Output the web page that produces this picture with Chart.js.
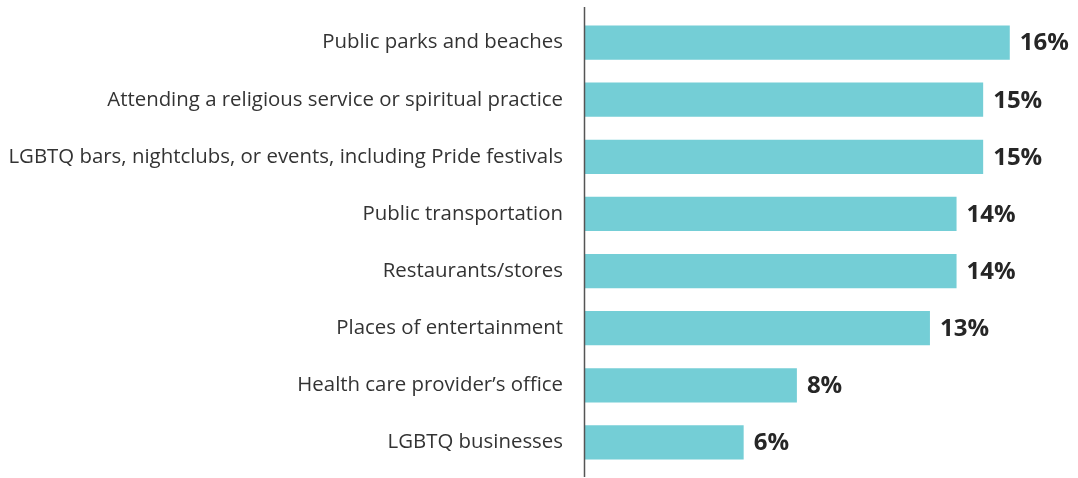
<!DOCTYPE html>
<html>
<head>
<meta charset="utf-8">
<script src="https://cdn.jsdelivr.net/npm/chart.js@4"></script>
<style>
  html, body { margin: 0; padding: 0; background: #fff; }
  #wrap { width: 1078px; height: 478px; }
</style>
</head>
<body>
<div id="wrap"><canvas id="chart"></canvas></div>
<script>
const categories = [
  "Public parks and beaches",
  "Attending a religious service or spiritual practice",
  "LGBTQ bars, nightclubs, or events, including Pride festivals",
  "Public transportation",
  "Restaurants/stores",
  "Places of entertainment",
  "Health care provider\u2019s office",
  "LGBTQ businesses"
];
const percents = [16, 15, 15, 14, 14, 13, 8, 6];

// draws the bold % next to each bar
const valueLabels = {
  id: "valueLabels",
  afterDatasetsDraw(chart) {
    const ctx = chart.ctx;
    const meta = chart.getDatasetMeta(0);
    ctx.save();
    ctx.font = "bold 24px 'Open Sans'";
    ctx.fillStyle = "#262626";
    ctx.textAlign = "left";
    ctx.textBaseline = "middle";
    meta.data.forEach((bar, i) => {
      ctx.fillText(percents[i] + "%", bar.x + 10, bar.y + 1);
    });
    ctx.restore();
  }
};

// vertical axis line, a bit taller than the plot area
const axisLine = {
  id: "axisLine",
  afterDraw(chart) {
    const ctx = chart.ctx;
    const x = Math.round(chart.scales.x.left) + 0.5;
    ctx.save();
    ctx.strokeStyle = "#555";
    ctx.lineWidth = 1.5;
    ctx.beginPath();
    ctx.moveTo(x, 7);
    ctx.lineTo(x, 477);
    ctx.stroke();
    ctx.restore();
  }
};

new Chart(document.getElementById("chart").getContext("2d"), {
  type: "bar",
  data: {
    labels: categories,
    datasets: [
      {
        data: percents,
        backgroundColor: "#74CED6",
        barPercentage: 0.6,
        categoryPercentage: 1,
      },
    ],
  },
  options: {
    indexAxis: "y",
    responsive: true,
    maintainAspectRatio: false,
    animation: false,
    layout: { padding: { top: 14, bottom: 7, right: 15, left: 0 } },
    scales: {
      x: {
        min: 0,
        max: 18,
        display: false,
        grid: { display: false },
      },
      y: {
        grid: { display: false, drawTicks: false },
        border: { display: false },
        ticks: {
          padding: 21,
          color: "#333",
          font: { family: "'Open Sans'", size: 20.4 },
        },
        afterFit(scale) {
          scale.width = 584;
          scale.paddingTop = 0;
          scale.paddingBottom = 0;
        },
      },
    },
    plugins: {
      legend: { display: false },
      tooltip: { enabled: false },
    },
  },
  plugins: [valueLabels, axisLine],
});
</script>
</body>
</html>
